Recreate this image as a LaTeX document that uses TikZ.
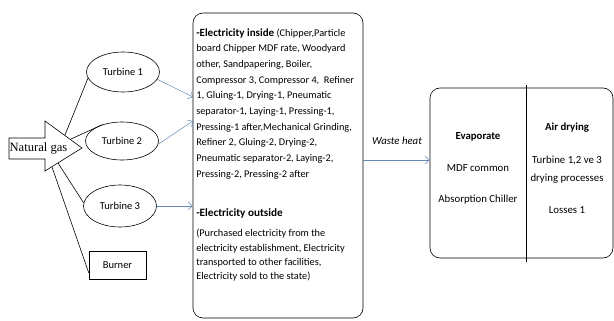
\documentclass[tikz,border=0pt]{standalone}
\usepackage{fontspec}
\setmainfont{Carlito}
\newfontfamily\gasfont{Liberation Serif}
\usetikzlibrary{arrows.meta,shapes.geometric}
\definecolor{flowblue}{RGB}{100,135,180}

\begin{document}
\begin{tikzpicture}[x=1pt,y=-1pt,line width=0.6pt,
  turbine/.style={draw,ellipse,minimum width=73,minimum height=40,inner sep=0pt,font=\fontsize{10.5}{12}\selectfont},
  burnerbox/.style={draw,rectangle,minimum width=57,minimum height=28,inner sep=0pt,font=\fontsize{10.5}{12}\selectfont},
  bigbox/.style={draw,rounded corners=10pt,inner sep=0pt},
  feed/.style={draw=flowblue,line width=0.5pt,-{Straight Barb[length=4pt,width=8pt]}},
  body/.style={align=left,inner sep=0pt,font=\fontsize{10.3}{15.7}\selectfont},
  label/.style={inner sep=0pt,font=\fontsize{10.8}{13}\selectfont}]
\useasboundingbox (0,0) rectangle (614,321);
\draw (9,138) -- (45,138) -- (45,121) -- (82,148) -- (45,171) -- (45,159) -- (9,159) -- cycle;
\node[inner sep=0pt,font=\gasfont\fontsize{12.6}{14}\selectfont] (gas) at (38.5,148) {Natural gas};
\coordinate (g1) at (65,135);
\coordinate (g2) at (71,139);
\coordinate (g3) at (58,163);
\coordinate (g4) at (52,167);
\node[turbine] (t1) at (123,72) {Turbine 1};
\node[turbine,minimum height=38] (t2) at (122,141) {Turbine 2};
\node[turbine,minimum height=42] (t3) at (120,206) {Turbine 3};
\node[burnerbox] (burner) at (117.5,265) {Burner};
\draw (g1) -- (t1.190);
\draw (g2) -- (t2.140);
\draw (g3) -- (t3.175);
\draw (g4) -- (burner.195);
\node[bigbox,minimum width=170,minimum height=305] (elec) at (278,165.5) {};
\coordinate (e1) at (193,97);
\coordinate (e2) at (193,121);
\draw[feed] (t1.-12) -- (e1);
\draw[feed] (t2.-5) -- (e2);
\draw[feed] (t3.east) -- (t3.east -| elec.west);
\node[body,anchor=north west] (inside) at (196,28) {{\bfseries\fontsize{11}{15.7}\selectfont -Electricity inside} (Chipper,Particle\\
board Chipper MDF rate, Woodyard\\
other, Sandpapering, Boiler,\\
Compressor 3, Compressor 4,~ Refiner\\
1, Gluing-1, Drying-1, Pneumatic\\
separator-1, Laying-1, Pressing-1,\\
Pressing-1 after,Mechanical Grinding,\\
Refiner 2, Gluing-2, Drying-2,\\
Pneumatic separator-2, Laying-2,\\
Pressing-2, Pressing-2 after};
\node[label,anchor=west,font=\bfseries\fontsize{11.2}{13}\selectfont] (outside) at (196,213) {-Electricity outside};
\node[body,anchor=north west,font=\fontsize{10.3}{14.3}\selectfont] (bought) at (196,229) {(Purchased electricity from the\\
electricity establishment, Electricity\\
transported to other facilities,\\
Electricity sold to the state)};
\node[bigbox,minimum width=183,minimum height=170] (uses) at (521.5,173) {};
\draw ([xshift=4.5pt,yshift=3pt]uses.north) -- ([xshift=4.5pt,yshift=-4pt]uses.south);
\coordinate (heatin) at ([yshift=13pt]uses.west);
\draw[feed] (heatin -| elec.east) -- (heatin);
\node[label,font=\itshape\fontsize{10.8}{13}\selectfont] (heat) at (397,141) {Waste heat};
\node[label,font=\bfseries\fontsize{10.8}{13}\selectfont] (evap) at (478,137) {Evaporate};
\node[label] (mdf) at (478,168) {MDF common};
\node[label] (chiller) at (478,200) {Absorption Chiller};
\node[label,font=\bfseries\fontsize{10.8}{13}\selectfont] (air) at (567,128) {Air drying};
\node[label] (tur) at (567,160) {Turbine 1,2 ve 3};
\node[label] (dry) at (567,179) {drying processes};
\node[label] (loss) at (567,210) {Losses 1};
\end{tikzpicture}
\end{document}
